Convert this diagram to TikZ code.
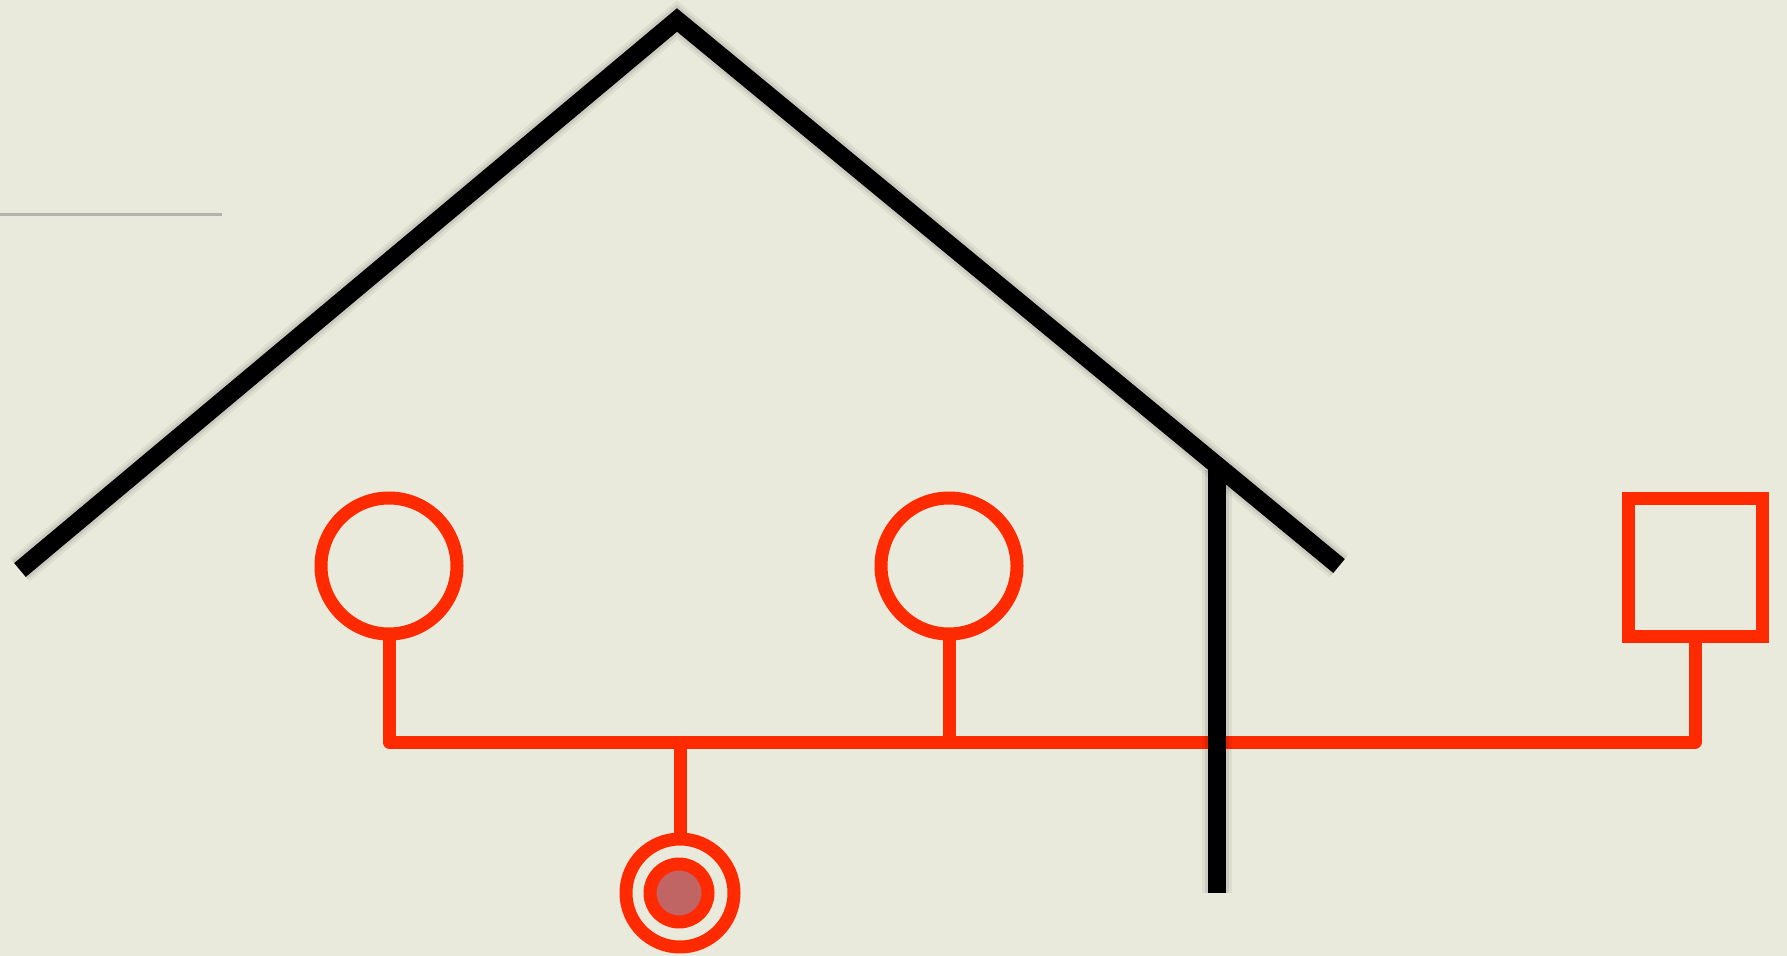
\documentclass[tikz,border=0pt]{standalone}
\definecolor{bg}{RGB}{233,234,220}
\definecolor{pen}{RGB}{255,42,0}
\definecolor{fillred}{RGB}{192,100,100}
\definecolor{faint}{RGB}{175,180,175}
\begin{document}
\begin{tikzpicture}[x=0.5pt,y=-0.5pt,
  redline/.style={draw=pen,line width=6.5pt,line join=round,line cap=butt},
  blackline/.style={draw=black,line width=9pt,line join=miter},
  shadowa/.style={draw=black,opacity=0.05,line width=15pt,line join=miter},
  shadowb/.style={draw=black,opacity=0.08,line width=12pt,line join=miter},
  shadowc/.style={draw=black,opacity=0.10,line width=9pt,line join=miter},
  person/.style={circle,redline,minimum size=68pt,inner sep=0pt,outer sep=0pt},
  malebox/.style={rectangle,redline,line join=miter,minimum width=67pt,minimum height=68.5pt,inner sep=0pt,outer sep=0pt}]
\fill[bg] (0,0) rectangle (1787,956);
\useasboundingbox (0,0) rectangle (1787,956);
% faint line
\coordinate (fL) at (0,215);
\coordinate (fR) at (222,215);
\draw[faint,line width=1.5pt] (fL) -- (fR);
% roof
\coordinate (roofL) at (20,570);
\coordinate (apex) at (677,20);
\coordinate (roofR) at (1339,566);
\coordinate (poleT) at (1217,470);
\coordinate (poleB) at (1217,893);
\begin{scope}[shift={(5,7)}]
  \draw[shadowa] (roofL) -- (apex) -- (roofR);
  \draw[shadowb] (roofL) -- (apex) -- (roofR);
  \draw[shadowc] (roofL) -- (apex) -- (roofR);
\end{scope}
\draw[blackline] (roofL) -- (apex) -- (roofR);
% family
\node[person] (c1) at (389,566) {};
\node[person] (c2) at (949,566) {};
\node[malebox] (sq) at (1695,567.5) {};
\node[circle,redline,minimum size=54pt,inner sep=0pt,outer sep=0pt] (c3) at (680,893) {};
\node[circle,redline,fill=fillred,minimum size=29pt,inner sep=0pt,outer sep=0pt] (c3in) at (679,893) {};
\coordinate (bus) at (395,742);
\draw[redline] (c1.south) -- (c1.south |- bus) -- (sq.south |- bus) -- (sq.south);
\draw[redline] (c2.south) -- (c2.south |- bus);
\draw[redline] (c3.north) -- (c3.north |- bus);
% pole
\begin{scope}[shift={(5,7)}]
  \draw[shadowa] (poleT) -- (poleB);
  \draw[shadowb] (poleT) -- (poleB);
  \draw[shadowc] (poleT) -- (poleB);
\end{scope}
\draw[blackline] (poleT) -- (poleB);
\end{tikzpicture}
\end{document}
